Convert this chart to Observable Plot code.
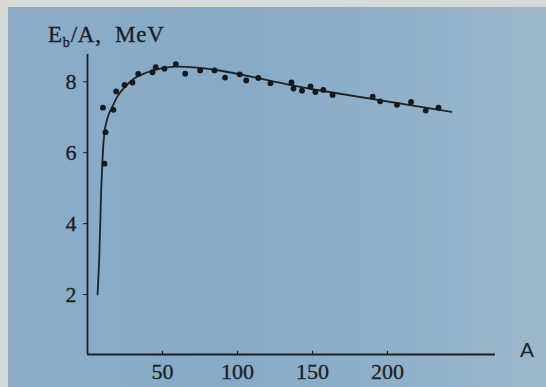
<!DOCTYPE html>
<html>
<head>
<meta charset="utf-8">
<script src="https://cdn.jsdelivr.net/npm/d3@7"></script>
<script src="https://cdn.jsdelivr.net/npm/@observablehq/plot@0.6"></script>
<style>
  html, body { margin: 0; padding: 0; }
  body { width: 546px; height: 387px; background: #d5d9d7; position: relative; overflow: hidden; }
  #paper { position: absolute; left: 8px; top: 7px; width: 538px; height: 380px;
    background: linear-gradient(90deg, #8cadc6 0%, #87aac6 40%, #8eafc8 65%, #9cb7ca 100%); }
  #chart { position: absolute; left: 0; top: 0; }
</style>
</head>
<body>
<div id="paper"></div>
<div id="chart"></div>
<script>
// Measured points (mass number A, binding energy per nucleon, MeV)
const dotA = [10.3, 11.3, 12.0, 17.3, 19.1, 24.7, 30.0, 33.8, 43.3, 45.5, 51.3, 58.9, 65.1, 75.1, 84.7, 91.7, 101.5, 105.8, 113.9, 122.0, 136.0, 137.3, 143.0, 148.7, 151.9, 157.2, 163.4, 190.1, 195.1, 206.3, 215.7, 225.5, 234.0];
const dotE = [7.27, 5.69, 6.58, 7.21, 7.73, 7.91, 7.98, 8.22, 8.27, 8.41, 8.37, 8.50, 8.23, 8.32, 8.32, 8.12, 8.21, 8.04, 8.11, 7.96, 7.98, 7.81, 7.75, 7.87, 7.71, 7.77, 7.63, 7.58, 7.45, 7.35, 7.43, 7.19, 7.27];

// Smooth trend curve
const curveA = [6.7, 8.0, 9.1, 9.7, 10.3, 11.3, 13.3, 16.7, 20.0, 24.7, 31.3, 40.0, 49.3, 58.7, 150.0, 242.7];
const curveE = [2.0, 3.24, 4.94, 5.50, 6.06, 6.57, 6.97, 7.31, 7.59, 7.84, 8.10, 8.27, 8.38, 8.43, 7.79, 7.15];

const xTicks = [50, 100, 150, 200];
const yTicks = [2, 4, 6, 8];
const xDomain = [0, 272];
const yDomain = [0.31, 8.77];

const dots = dotA.map((a, i) => ({A: a, E: dotE[i]}));
const curve = curveA.map((a, i) => ({A: a, E: curveE[i]}));

const ink = "#1a2024";

const plot = Plot.plot({
  width: 546,
  height: 387,
  marginLeft: 87,
  marginRight: 51,
  marginTop: 54,
  marginBottom: 33,
  style: {background: "transparent", fontFamily: "'Liberation Serif', 'Times New Roman', serif", fontSize: "22px", color: ink},
  x: {domain: xDomain, ticks: xTicks, tickSize: 0, tickPadding: 9, label: null},
  y: {domain: yDomain, ticks: yTicks, tickSize: 4, tickPadding: 7, label: null},
  marks: [
    Plot.ruleX([xDomain[0]], {stroke: ink, strokeWidth: 1.8}),
    Plot.ruleY([yDomain[0]], {stroke: ink, strokeWidth: 1.8}),
    Plot.ruleX(xTicks, {y1: yDomain[0], y2: yDomain[0] + 0.09, stroke: ink, strokeWidth: 1.2}),
    Plot.line(curve, {x: "A", y: "E", curve: "monotone-x", stroke: "#1b252a", strokeWidth: 1.8}),
    Plot.dot(dots, {x: "A", y: "E", r: 2.9, fill: "#14191c", stroke: null})
  ]
});

const svg = d3.select(plot);
svg.selectAll("g[aria-label$='tick label'] text").attr("stroke", ink).attr("stroke-width", 0.3);

const title = svg.append("text")
  .attr("x", 48).attr("y", 42)
  .attr("text-anchor", "start")
  .attr("fill", ink)
  .attr("stroke", ink).attr("stroke-width", 0.3)
  .style("font-family", "'Liberation Serif', 'Times New Roman', serif")
  .style("font-size", "23px")
  .style("letter-spacing", "0.8px");
title.append("tspan").text("E");
title.append("tspan").attr("dy", 5).style("font-size", "14px").text("b");
title.append("tspan").attr("dy", -5).text("/A,\u00a0\u00a0MeV");

svg.append("text")
  .attr("x", 527).attr("y", 357)
  .attr("text-anchor", "middle")
  .attr("fill", ink)
  .style("font-family", "'Liberation Sans', Arial, sans-serif")
  .style("font-size", "21px")
  .text("A");

document.getElementById("chart").appendChild(plot);
</script>
</body>
</html>
